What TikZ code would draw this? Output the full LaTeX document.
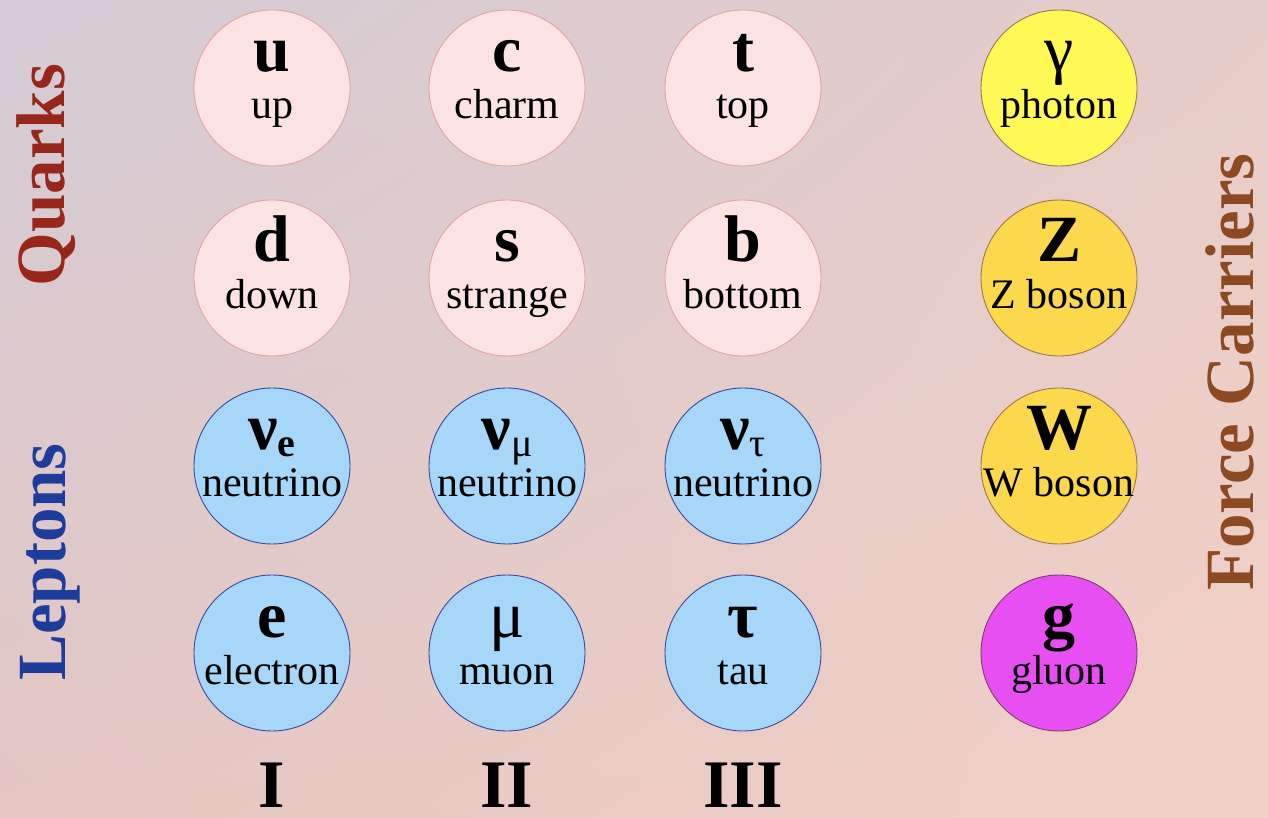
\documentclass[tikz,border=0pt]{standalone}
\usepackage{fontspec}
\setmainfont{Liberation Serif}
\usetikzlibrary{calc,shadings}
\definecolor{bgUL}{HTML}{D3CCD6}
\definecolor{bgUR}{HTML}{E6CCC8}
\definecolor{bgLL}{HTML}{E4C6C2}
\definecolor{bgLR}{HTML}{F2D0C6}
\definecolor{quarkfill}{HTML}{FBE3E3}
\definecolor{quarkline}{HTML}{E2A2A0}
\definecolor{leptonfill}{HTML}{A6D7F8}
\definecolor{leptonline}{HTML}{3A4A9E}
\definecolor{photonfill}{HTML}{FFF955}
\definecolor{bosonfill}{HTML}{FBD84C}
\definecolor{bosonline}{HTML}{A07848}
\definecolor{gluonfill}{HTML}{E84FF2}
\definecolor{gluonline}{HTML}{803A70}
\definecolor{quarktitle}{HTML}{98261A}
\definecolor{leptontitle}{HTML}{1E3C9C}
\definecolor{forcetitle}{HTML}{8C4A22}
\tikzset{
  particle/.style={circle, minimum size=156pt, inner sep=0pt, line width=0.9pt},
  quark/.style={particle, fill=quarkfill, draw=quarkline},
  lepton/.style={particle, fill=leptonfill, draw=leptonline},
  photon/.style={particle, fill=photonfill, draw=bosonline},
  boson/.style={particle, fill=bosonfill, draw=bosonline},
  gluon/.style={particle, fill=gluonfill, draw=gluonline},
  symb/.style={anchor=base, inner sep=0pt, font=\fontsize{66}{66}\selectfont\bfseries},
  pname/.style={anchor=base, inner sep=0pt, font=\fontsize{42}{42}\selectfont},
  title/.style={anchor=center, inner sep=0pt, rotate=90, font=\fontsize{69}{69}\selectfont\bfseries},
  gen/.style={anchor=base, inner sep=0pt, font=\fontsize{68}{68}\selectfont\bfseries}
}
\newcommand{\particle}[6]{%
  \node[#4] (#1) at (#2,#3) {};
  \node[symb] (#1-s) at ([yshift=16pt]#1.center) {#5};
  \node[pname] (#1-n) at ([yshift=-31pt]#1.center) {#6};
}
\newcommand{\subsc}[1]{\raisebox{-7pt}{\fontsize{40}{40}\selectfont #1}}
\begin{document}
\begin{tikzpicture}[x=1pt,y=1pt]
\useasboundingbox (0,0) rectangle (1268,817);
\shade[upper left=bgUL, upper right=bgUR, lower left=bgLL, lower right=bgLR] (0,0) rectangle (1268,817);
% quarks
\particle{u}{272}{729}{quark}{u}{up}
\particle{c}{507}{729}{quark}{c}{charm}
\particle{t}{743}{729}{quark}{t}{top}
\particle{d}{272}{539}{quark}{d}{down}
\particle{s}{507}{539}{quark}{s}{strange}
\particle{b}{743}{539}{quark}{b}{bottom}
% leptons
\particle{nue}{272}{351}{lepton}{ν\subsc{\bfseries e}}{neutrino}
\particle{numu}{507}{351}{lepton}{ν\subsc{\mdseries μ}}{neutrino}
\particle{nutau}{743}{351}{lepton}{ν\subsc{\mdseries τ}}{neutrino}
\particle{e}{272}{164}{lepton}{e}{electron}
\particle{mu}{507}{164}{lepton}{\mdseries μ}{muon}
\particle{tau}{743}{164}{lepton}{τ}{tau}
% force carriers
\particle{gamma}{1059}{729}{photon}{\mdseries γ}{photon}
\particle{Z}{1059}{539}{boson}{Z}{Z boson}
\particle{W}{1059}{351}{boson}{W}{W boson}
\particle{g}{1059}{164}{gluon}{g}{gluon}
% titles
\node[title, text=quarktitle] (qt) at (46,642) {Quarks};
\node[title, text=leptontitle] (lt) at (50,255) {Leptons};
\node[title, text=forcetitle] (ft) at (1230,445) {Force Carriers};
% generations
\node[gen] (g1) at (272,10) {I};
\node[gen] (g2) at (507,10) {II};
\node[gen] (g3) at (743,10) {III};
\end{tikzpicture}
\end{document}
